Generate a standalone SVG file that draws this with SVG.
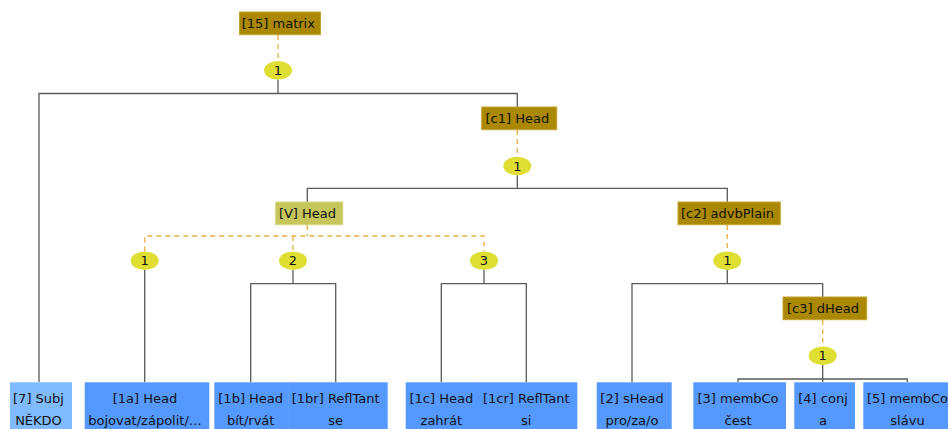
<svg xmlns="http://www.w3.org/2000/svg" width="948" height="429" viewBox="0 0 948 429">
<style>
text{font-family:"DejaVu Sans","Liberation Sans",sans-serif;font-size:13px;fill:#111111;text-anchor:middle}
.hd{fill:#aa8800;stroke:#c4a431;stroke-width:1}
.hv{fill:#c6c65c;stroke:#d6d680;stroke-width:1}
.lf{fill:#5599ff}
.ls{fill:#80bbff}
.el{fill:#dede33}
.sl{stroke:#5a5a5a;stroke-width:1.3;fill:none}
.dl{stroke:#e8b040;stroke-width:1.3;stroke-dasharray:5,4;fill:none}
</style>
<rect width="948" height="429" fill="#ffffff"/>
<g id="connectors">
<path class="dl" d="M278 35V61"/>
<path class="sl" d="M278 79.6V93.5M39 382V93.5H517.3V107"/>
<path class="dl" d="M517.3 130V156.7"/>
<path class="sl" d="M517.3 175.3V188.3M307.3 202V188.3H727.3V202"/>
<path class="dl" d="M307.3 225V236M144.7 251.4V236H484V251.4M293 236V251.4"/>
<path class="sl" d="M144.7 270V382"/>
<path class="sl" d="M293 270V283.7M250.7 382V283.7H335.7V382"/>
<path class="sl" d="M484 270V283.7M441.3 382V283.7H526.3V382"/>
<path class="dl" d="M727.3 225V251.4"/>
<path class="sl" d="M727.3 270V283.7M632 382V283.7H822.7V297"/>
<path class="dl" d="M822.7 320V346.4"/>
<path class="sl" d="M822.7 365V379M738 382V379H907.3V382M822.7 379V382"/>
</g>
<g id="n15"><rect class="hd" x="239.5" y="12" width="81" height="22.7"/><text x="278.3" y="27.5">[15] matrix</text></g>
<g id="e15"><ellipse class="el" cx="278" cy="70.3" rx="14" ry="9.3"/><text x="278" y="75">1</text></g>
<g id="nc1"><rect class="hd" x="481.7" y="107" width="75" height="22.7"/><text x="517.3" y="122.5">[c1] Head</text></g>
<g id="ec1"><ellipse class="el" cx="517.3" cy="166" rx="14" ry="9.3"/><text x="517.3" y="170.7">1</text></g>
<g id="nV"><rect class="hv" x="275.7" y="202" width="67" height="22.7"/><text x="307.5" y="217.5">[V] Head</text></g>
<g id="eV1"><ellipse class="el" cx="144.7" cy="260.7" rx="14" ry="9.3"/><text x="144.7" y="265.4">1</text></g>
<g id="eV2"><ellipse class="el" cx="293" cy="260.7" rx="14" ry="9.3"/><text x="293" y="265.4">2</text></g>
<g id="eV3"><ellipse class="el" cx="484" cy="260.7" rx="14" ry="9.3"/><text x="484" y="265.4">3</text></g>
<g id="nc2"><rect class="hd" x="678" y="202" width="102.3" height="22.7"/><text x="727.5" y="217.5">[c2] advbPlain</text></g>
<g id="ec2"><ellipse class="el" cx="727.3" cy="260.7" rx="14" ry="9.3"/><text x="727.3" y="265.4">1</text></g>
<g id="nc3"><rect class="hd" x="783" y="297" width="83.7" height="22.7"/><text x="823" y="312.5">[c3] dHead</text></g>
<g id="ec3"><ellipse class="el" cx="822.7" cy="355.7" rx="14" ry="9.3"/><text x="822.7" y="360.4">1</text></g>
<g id="n7"><rect class="ls" x="10" y="382.3" width="62" height="50"/><text x="38.5" y="403.3">[7] Subj</text><text x="38.5" y="425">NĚKDO</text></g>
<g id="n1a"><rect class="lf" x="84.7" y="382.3" width="124.6" height="50"/><text x="145" y="403.3">[1a] Head</text><text x="145" y="425">bojovat/zápolit/…</text></g>
<g id="n1b"><rect class="lf" x="214.3" y="382.3" width="74.5" height="50"/><text x="250.7" y="403.3">[1b] Head</text><text x="250.7" y="425">bít/rvát</text></g>
<g id="n1br"><rect class="lf" x="288.3" y="382.3" width="99.4" height="50"/><text x="335.7" y="403.3">[1br] ReflTant</text><text x="335.7" y="425">se</text></g>
<g id="n1c"><rect class="lf" x="405.7" y="382.3" width="73.5" height="50"/><text x="441.3" y="403.3">[1c] Head</text><text x="441.3" y="425">zahrát</text></g>
<g id="n1cr"><rect class="lf" x="478.7" y="382.3" width="98.6" height="50"/><text x="526.3" y="403.3">[1cr] ReflTant</text><text x="526.3" y="425">si</text></g>
<g id="n2"><rect class="lf" x="596.7" y="382.3" width="75" height="50"/><text x="632" y="403.3">[2] sHead</text><text x="632" y="425">pro/za/o</text></g>
<g id="n3"><rect class="lf" x="693.3" y="382.3" width="92.7" height="50"/><text x="738" y="403.3">[3] membCo</text><text x="738" y="425">čest</text></g>
<g id="n4"><rect class="lf" x="794.3" y="382.3" width="60.7" height="50"/><text x="823" y="403.3">[4] conj</text><text x="823" y="425">a</text></g>
<g id="n5"><rect class="lf" x="863.3" y="382.3" width="92" height="50"/><text x="907.5" y="403.3">[5] membCo</text><text x="907.5" y="425">slávu</text></g>
</svg>
